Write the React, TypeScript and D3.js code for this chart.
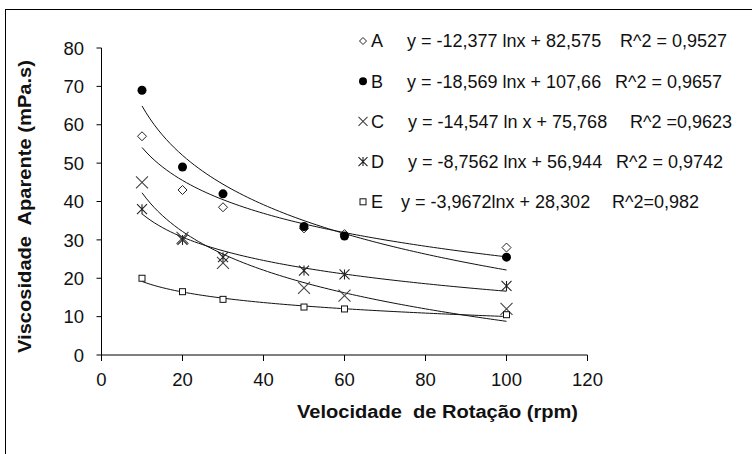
import React from 'react'
import * as d3 from 'd3'

const W = 752
const H = 454
const FONT = 'Arial, "Liberation Sans", Helvetica, sans-serif'

// rotation speeds (rpm)
const speeds = [10, 20, 30, 50, 60, 100]

// apparent viscosity (mPa.s) per sample
const serieA = [57, 43, 38.5, 33, 31.5, 28]
const serieB = [69, 49, 42, 33.5, 31, 25.5]
const serieC = [45, 30.5, 24, 17.5, 15.5, 12]
const serieD = [38, 30, 25.5, 22, 21, 18]
const serieE = [20, 16.5, 14.5, 12.5, 12, 10.5]

// log trend coefficients: y = a ln x + b
const slopes = [-12.377, -18.569, -14.547, -8.7562, -3.9672]
const intercepts = [82.575, 107.66, 75.768, 56.944, 28.302]

const names = ['A', 'B', 'C', 'D', 'E']
const equations = [
  'y = -12,377 lnx + 82,575',
  'y = -18,569 lnx + 107,66',
  'y = -14,547 ln x + 75,768',
  'y = -8,7562 lnx + 56,944',
  'y = -3,9672lnx + 28,302',
]
const r2Labels = ['R^2 = 0,9527', 'R^2 = 0,9657', 'R^2 =0,9623', 'R^2 = 0,9742', 'R^2=0,982']
const markers = ['diamond', 'circle', 'cross', 'star', 'square']

const xTicks = [0, 20, 40, 60, 80, 100, 120]
const yTicks = [0, 10, 20, 30, 40, 50, 60, 70, 80]

// legend text placement (x of equation / R^2 text)
const legendEqX = [407, 407, 408, 408, 401]
const legendR2X = [620, 615, 630, 616, 612]

const x = d3.scaleLinear().domain([0, 120]).range([101.5, 587.5])
const y = d3.scaleLinear().domain([0, 80]).range([355, 48])

function Marker({ kind, cx, cy, s }: { kind: string; cx: number; cy: number; s: number }) {
  const h = s / 2
  if (kind === 'diamond') {
    return (
      <path
        d={`M${cx},${cy - h}L${cx + h},${cy}L${cx},${cy + h}L${cx - h},${cy}Z`}
        fill="#fff"
        stroke="#222"
        strokeWidth={1}
      />
    )
  }
  if (kind === 'circle') return <circle cx={cx} cy={cy} r={h} fill="#000" />
  if (kind === 'cross') {
    return (
      <path
        d={`M${cx - h},${cy - h}L${cx + h},${cy + h}M${cx - h},${cy + h}L${cx + h},${cy - h}`}
        stroke="#444"
        strokeWidth={1.1}
        fill="none"
      />
    )
  }
  if (kind === 'star') {
    return (
      <path
        d={`M${cx - h},${cy - h}L${cx + h},${cy + h}M${cx - h},${cy + h}L${cx + h},${cy - h}M${cx},${cy - h}L${cx},${cy + h}`}
        stroke="#222"
        strokeWidth={1.1}
        fill="none"
      />
    )
  }
  return (
    <rect x={cx - h} y={cy - h} width={s} height={s} fill="#fff" stroke="#111" strokeWidth={1} />
  )
}

export default function App() {
  const series = [serieA, serieB, serieC, serieD, serieE]
  const plotSize = [9, 9, 12, 10, 6]
  const legendSize = [7, 8, 9, 9, 6]

  const trendX = d3.range(10, 100.001, 1)
  const line = d3
    .line<number>()
    .x((v) => x(v))

  return (
    <svg
      width={W}
      height={H}
      style={{ position: 'absolute', left: 0, top: 0, background: '#fff' }}
      fontFamily={FONT}
    >
      <rect x={0} y={0} width={W} height={H} fill="#fff" />
      <rect x={5.5} y={9.5} width={W + 20} height={H + 20} fill="none" stroke="#000" strokeWidth={1} />

      {/* axes */}
      <line x1={x(0)} x2={x(0)} y1={y(80)} y2={y(0)} stroke="#000" />
      <line x1={x(0)} x2={x(120)} y1={y(0)} y2={y(0)} stroke="#000" />
      {yTicks.map((t) => (
        <g key={'y' + t}>
          <line x1={x(0) - 5} x2={x(0)} y1={y(t)} y2={y(t)} stroke="#000" />
          <text x={84} y={y(t)} dy="0.36em" textAnchor="end" fontSize={18.5} fill="#111">
            {t}
          </text>
        </g>
      ))}
      {xTicks.map((t) => (
        <g key={'x' + t}>
          <line x1={x(t)} x2={x(t)} y1={y(0)} y2={y(0) + 6} stroke="#000" />
          <text x={x(t)} y={386} textAnchor="middle" fontSize={18.5} fill="#111">
            {t}
          </text>
        </g>
      ))}

      <text
        x={297}
        y={418}
        fontSize={18}
        fontWeight="bold"
        fill="#111"
        textLength={281}
        lengthAdjust="spacingAndGlyphs"
        style={{ whiteSpace: 'pre' }}
      >
        {'Velocidade  de Rotação (rpm)'}
      </text>
      <text
        transform="translate(31,353) rotate(-90)"
        fontSize={18}
        fontWeight="bold"
        fill="#111"
        textLength={293}
        lengthAdjust="spacingAndGlyphs"
        style={{ whiteSpace: 'pre' }}
      >
        {'Viscosidade  Aparente (mPa.s)'}
      </text>

      {/* log trend lines */}
      {slopes.map((a, i) => (
        <path
          key={'t' + i}
          d={line.y((v) => y(a * Math.log(v) + intercepts[i]))(trendX) || ''}
          fill="none"
          stroke="#111"
          strokeWidth={1}
        />
      ))}

      {/* data points */}
      {series.map((vals, i) =>
        vals.map((v, j) => (
          <Marker key={`m${i}-${j}`} kind={markers[i]} cx={x(speeds[j])} cy={y(v)} s={plotSize[i]} />
        ))
      )}

      {/* legend */}
      {names.map((n, i) => {
        const ly = 41 + i * 40.2
        return (
          <g key={'l' + n} fontSize={18} fill="#111">
            <Marker kind={markers[i]} cx={363} cy={ly} s={legendSize[i]} />
            <text x={371} y={ly} dy="0.36em">
              {n}
            </text>
            <text x={legendEqX[i]} y={ly} dy="0.36em">
              {equations[i]}
            </text>
            <text x={legendR2X[i]} y={ly} dy="0.36em">
              {r2Labels[i]}
            </text>
          </g>
        )
      })}
    </svg>
  )
}
